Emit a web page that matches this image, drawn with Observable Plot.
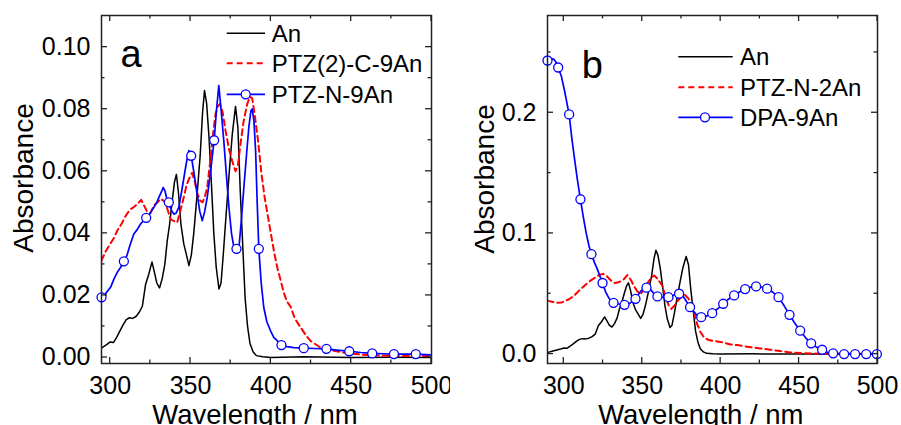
<!DOCTYPE html>
<html>
<head>
<meta charset="utf-8">
<script src="https://cdn.jsdelivr.net/npm/d3@7"></script>
<script src="https://cdn.jsdelivr.net/npm/@observablehq/plot@0.6"></script>
<style>
  body { margin: 0; background: #fff; }
  #wrap { display: flex; width: 901px; height: 425px; overflow: hidden; background: #fff; }
  #wrap svg { display: block; }
</style>
</head>
<body>
<div id="wrap"></div>
<script>
// ---------- data (wavelength nm, absorbance) ----------
const anSpectrum = [
  [290,0.0014],[293,0.0025],[295,0.0032],[298,0.0042],[300,0.0050],[302,0.0048],[304,0.0065],
  [306,0.0085],[308,0.0105],[310,0.0122],[312,0.0128],[314,0.0126],[316,0.0132],[318,0.0145],
  [320,0.0165],[322,0.0235],[324,0.0268],[326,0.0308],[327.5,0.0275],[329,0.0240],[330.7,0.0224],
  [332.4,0.0255],[334,0.0300],[335.5,0.0376],[337,0.0430],[338.5,0.0500],[340,0.0565],[341.2,0.0590],
  [342.5,0.0530],[344,0.0430],[345.8,0.0366],[347.5,0.0330],[349,0.0296],[350.5,0.0330],[352,0.0400],
  [354,0.0520],[356,0.0650],[357.5,0.0790],[358.7,0.0860],[360,0.0820],[361.5,0.0710],[363,0.0560],
  [364.5,0.0400],[366,0.0290],[367.7,0.0221],[369,0.0240],[370.5,0.0340],[372,0.0450],[374,0.0590],
  [376,0.0720],[378,0.0809],[379.5,0.0740],[381,0.0530],[382.5,0.0360],[384,0.0190],[385.5,0.0100],
  [387,0.0045],[389,0.0018],[391,0.0006],[395,0.0002],[400,0.0000],[420,0.0002],[450,0.0000],
  [475,0.0001],[500,0.0000]
];

const ptz2C9An = [
  [294.5,0.0312],[297,0.0340],[300,0.0366],[302.3,0.0385],[304.5,0.0410],[307,0.0430],[309.5,0.0455],
  [312,0.0475],[314.7,0.0485],[317,0.0495],[319.3,0.0508],[321,0.0490],[323,0.0470],[325,0.0465],
  [327.2,0.0490],[329.5,0.0500],[331.3,0.0511],[333.5,0.0505],[335.5,0.0480],[337.6,0.0445],
  [339.6,0.0440],[341.7,0.0435],[343.5,0.0470],[345.8,0.0516],[347.5,0.0555],[349,0.0575],[351,0.0595],
  [352.5,0.0570],[354.2,0.0530],[356,0.0505],[357.5,0.0500],[359,0.0520],[360.4,0.0548],[362,0.0620],
  [363.8,0.0710],[365.6,0.0785],[367,0.0810],[368.3,0.0817],[370,0.0790],[371.8,0.0731],[374,0.0670],
  [375.9,0.0634],[378,0.0600],[379.5,0.0620],[381.1,0.0688],[383,0.0760],[385.3,0.0817],[387,0.0840],
  [388.4,0.0835],[390,0.0780],[392,0.0700],[394,0.0600],[396,0.0520],[398,0.0460],[400,0.0400],
  [402,0.0340],[404,0.0290],[406,0.0250],[408,0.0210],[410,0.0180],[412.2,0.0165],[415,0.0125],
  [418.5,0.0097],[422,0.0070],[425,0.0052],[431,0.0032],[435,0.0026],[439.2,0.0022],[444,0.0017],
  [449.6,0.0013],[455,0.0010],[460,0.0008],[470,0.0006],[480.7,0.0005],[490,0.0005],[500,0.0005]
];

const ptzN9An = [
  [294.6,0.0194],[297,0.0205],[300.2,0.0226],[302.5,0.0255],[304.5,0.0275],[306.4,0.0290],[308.5,0.0310],
  [310.5,0.0330],[312.5,0.0365],[314.7,0.0398],[316.8,0.0412],[318.9,0.0430],[320.5,0.0440],[322.4,0.0450],
  [324.5,0.0462],[327.2,0.0484],[329,0.0500],[330.3,0.0516],[332,0.0535],[333,0.0548],[334.2,0.0535],
  [335.3,0.0510],[336.5,0.0500],[338,0.0475],[339.6,0.0462],[341,0.0465],[342.7,0.0484],[344.3,0.0530],
  [345.9,0.0580],[347.5,0.0630],[349,0.0667],[350.4,0.0650],[352,0.0600],[354.1,0.0527],[355.8,0.0470],
  [357.3,0.0441],[358.8,0.0470],[360.4,0.0516],[362.5,0.0600],[364.7,0.0700],[366.2,0.0800],[367.6,0.0876],
  [369,0.0800],[370.7,0.0699],[372.3,0.0590],[373.9,0.0484],[375.5,0.0400],[377,0.0355],[378.6,0.0350],
  [380.1,0.0352],[381.6,0.0440],[383.2,0.0548],[384.8,0.0650],[386.3,0.0742],[387.6,0.0795],[388.4,0.0801],
  [389.5,0.0760],[390.5,0.0667],[391.5,0.0500],[392.5,0.0350],[394,0.0240],[395.6,0.0161],[397.5,0.0115],
  [399.8,0.0086],[401.8,0.0065],[403.9,0.0054],[406.6,0.0040],[410,0.0035],[414.3,0.0032],[420.5,0.0030],
  [427,0.0029],[434.6,0.0028],[441,0.0024],[448.8,0.0020],[456,0.0016],[463.1,0.0013],[470,0.0012],
  [476.6,0.0011],[483,0.0011],[490.2,0.0011],[500,0.0008]
];
const ptzN9AnMarkers = [294.6,308.5,322.4,336.5,350.4,364.7,378.6,392.5,406.6,420.5,434.6,448.8,463.1,476.6,490.2];

const ptzN2An = [
  [289.6,0.0443],[293,0.0432],[296,0.0425],[298.5,0.0428],[301,0.0440],[304,0.0460],[307,0.0490],
  [310,0.0530],[313,0.0565],[316,0.0600],[319,0.0625],[322.5,0.0655],[325,0.0665],[327.5,0.0645],
  [330,0.0610],[332.5,0.0590],[335,0.0595],[338,0.0615],[340.5,0.0655],[342.5,0.0620],[344.6,0.0568],
  [346.8,0.0520],[348.9,0.0499],[351,0.0530],[353.5,0.0590],[355.5,0.0630],[357.6,0.0651],[360,0.0620],
  [362.7,0.0568],[365,0.0470],[367,0.0400],[368.5,0.0375],[370.5,0.0400],[372.5,0.0440],[375,0.0475],
  [377.3,0.0490],[379.5,0.0460],[381.9,0.0388],[383.5,0.0320],[385,0.0250],[387,0.0185],[389.3,0.0140],
  [392,0.0118],[395,0.0110],[398,0.0105],[402,0.0095],[406.3,0.0080],[410.5,0.0075],[415,0.0065],
  [419,0.0057],[425,0.0047],[431.8,0.0036],[438,0.0025],[444.5,0.0014],[452,0.0008],[460,0.0005],
  [470,0.0003],[480,0.0002],[490,0.0002],[500,0.0002]
];

const dpa9An = [
  [289.6,0.2433],[291.5,0.2450],[293.6,0.2444],[295,0.2420],[296.4,0.2375],[298.5,0.2300],[300.5,0.2180],
  [302,0.2080],[303.4,0.1986],[305,0.1800],[306.6,0.1640],[308.6,0.1450],[310.6,0.1283],[312.5,0.1130],
  [314.3,0.1000],[316,0.0900],[317.6,0.0828],[319.5,0.0760],[321.5,0.0700],[323.2,0.0640],[324.7,0.0589],
  [326.5,0.0520],[328.5,0.0470],[330,0.0440],[331.7,0.0425],[335,0.0415],[338.7,0.0408],[342,0.0420],
  [345.7,0.0458],[349,0.0520],[351,0.0545],[352.7,0.0550],[354.5,0.0545],[356.3,0.0520],[358,0.0490],
  [359.7,0.0478],[363,0.0470],[366.7,0.0472],[369,0.0480],[371,0.0495],[373.5,0.0500],[375.5,0.0490],
  [377.5,0.0450],[380.5,0.0389],[383,0.0350],[385,0.0320],[387.6,0.0306],[391,0.0315],[394.6,0.0339],
  [398,0.0375],[401.6,0.0417],[405,0.0455],[408.6,0.0486],[412,0.0515],[415.6,0.0539],[419,0.0555],
  [422.6,0.0561],[426,0.0556],[429.6,0.0542],[433,0.0515],[436.9,0.0472],[440.5,0.0400],[443.9,0.0325],
  [447.3,0.0255],[450.7,0.0194],[454.2,0.0135],[457.7,0.0089],[461,0.0058],[464.7,0.0036],[468,0.0015],
  [471.7,0.0006],[478.7,0.0000],[485.7,0.0000],[492.8,0.0000],[499.6,0.0000],[500,0.0000]
];
const dpa9AnMarkers = [289.6,296.4,303.4,310.6,317.6,324.7,331.7,338.7,345.7,352.7,359.7,366.7,373.5,380.5,
  387.6,394.6,401.6,408.6,415.6,422.6,429.6,436.9,443.9,450.7,457.7,464.7,471.7,478.7,485.7,492.8,499.6];

// ---------- ticks and labels ----------
const xMajor = [300,350,400,450,500];
const xMinor = [325,375,425,475];
const yMajorA = [0,0.02,0.04,0.06,0.08,0.10];
const yMinorA = [0.01,0.03,0.05,0.07,0.09];
const yMajorB = [0,0.1,0.2];
const yMinorB = [0.05,0.15,0.25];
const legendA = ["An","PTZ(2)-C-9An","PTZ-N-9An"];
const legendB = ["An","PTZ-N-2An","DPA-9An"];
const xTitle = "Wavelength / nm";
const yTitle = "Absorbance";

const FONT = "'Liberation Sans', Arial, Helvetica, sans-serif";
const BLACK = "#000000", RED = "#ff0000", BLUE = "#0000ff";
const styles = [
  {stroke: BLACK, strokeWidth: 1.5, dash: null, marker: false},
  {stroke: RED, strokeWidth: 2, dash: "6,4", marker: false},
  {stroke: BLUE, strokeWidth: 1.7, dash: null, marker: true}
];

function panel(cfg) {
  const seriesMarks = cfg.series.map((s, i) => Plot.line(s, {
    x: d => d[0], y: d => d[1], stroke: styles[i].stroke, strokeWidth: styles[i].strokeWidth,
    strokeDasharray: styles[i].dash, clip: true, curve: "linear"
  }));
  const markerData = cfg.series[2].filter(d => cfg.markers.includes(d[0]));
  const chart = Plot.plot({
    width: cfg.width, height: 425,
    marginLeft: cfg.ml, marginRight: cfg.mr, marginTop: 15, marginBottom: 62,
    style: {fontFamily: FONT, fontSize: "25px", background: "white", color: "#000", overflow: "visible"},
    x: {domain: cfg.xDomain},
    y: {domain: cfg.yDomain},
    marks: [
      Plot.axisX(xMajor, {tickSize: 0, tickPadding: 13, label: null, tickFormat: d3.format("d")}),
      Plot.axisY(cfg.yMajor, {tickSize: 0, tickPadding: 11, label: null, tickFormat: cfg.fmt}),
      ...seriesMarks,
      Plot.dot(markerData, {x: d => d[0], y: d => d[1], r: 4.5, fill: "white", stroke: BLUE, strokeWidth: 1.3}),
      Plot.frame({stroke: "#222", strokeWidth: 1.5})
    ]
  });
  const svg = d3.select(chart);
  const sx = chart.scale("x"), sy = chart.scale("y");
  const [xl, xr] = sx.range, [yb, yt] = sy.range;
  const g = svg.append("g").attr("stroke", "#222").attr("stroke-width", 1.3);
  const addX = (vals, len) => vals.forEach(v => {
    const x = sx.apply(v);
    g.append("line").attr("x1", x).attr("x2", x).attr("y1", yb).attr("y2", yb - len);
    g.append("line").attr("x1", x).attr("x2", x).attr("y1", yt).attr("y2", yt + len);
  });
  const addY = (vals, len) => vals.forEach(v => {
    const y = sy.apply(v);
    g.append("line").attr("y1", y).attr("y2", y).attr("x1", xl).attr("x2", xl + len);
    g.append("line").attr("y1", y).attr("y2", y).attr("x1", xr).attr("x2", xr - len);
  });
  addX(xMajor, 6); addX(xMinor, 3.5);
  addY(cfg.yMajor, 6); addY(cfg.yMinor, 3.5);

  const txt = (sel) => sel.attr("font-family", FONT).attr("fill", "#000");
  // axis titles
  svg.append("text").text(xTitle).attr("x", cfg.xTitleX).attr("y", 423.5)
    .attr("text-anchor", "middle").attr("font-size", 27.5).call(txt);
  svg.append("text").text(yTitle)
    .attr("transform", `translate(${cfg.yTitleX},${cfg.yTitleY}) rotate(-90)`)
    .attr("text-anchor", "middle").attr("font-size", 28).call(txt);
  // panel letter
  svg.append("text").text(cfg.letter).attr("x", cfg.letterX).attr("y", cfg.letterY)
    .attr("text-anchor", "start").attr("font-size", 38).call(txt);
  // legend
  const lg = svg.append("g");
  cfg.legend.forEach((label, i) => {
    const y = cfg.legY[i], st = styles[i];
    lg.append("line").attr("x1", cfg.legX0).attr("x2", cfg.legX1).attr("y1", y).attr("y2", y)
      .attr("stroke", st.stroke).attr("stroke-width", st.strokeWidth)
      .attr("stroke-dasharray", st.dash);
    if (st.marker) lg.append("circle").attr("cx", cfg.legM).attr("cy", y).attr("r", 4.5)
      .attr("fill", "white").attr("stroke", BLUE).attr("stroke-width", 1.3);
    lg.append("text").text(label).attr("x", cfg.legT).attr("y", y + 8.5)
      .attr("text-anchor", "start").attr("font-size", 24).call(txt);
  });
  return chart;
}

const wrap = document.getElementById("wrap");
wrap.appendChild(panel({
  width: 450, ml: 101, mr: 19,
  xDomain: [294.58, 500], yDomain: [-0.00194, 0.1102],
  yMajor: yMajorA, yMinor: yMinorA, fmt: d3.format(".2f"),
  series: [anSpectrum, ptz2C9An, ptzN9An], markers: ptzN9AnMarkers,
  legend: legendA, legY: [33.3, 63.3, 94.3], legX0: 226.7, legX1: 265, legM: 245.7, legT: 271.7,
  letter: "a", letterX: 120.5, letterY: 66.7,
  xTitleX: 255, yTitleX: 33, yTitleY: 178
}));
wrap.appendChild(panel({
  width: 451, ml: 97, mr: 24,
  xDomain: [289.6, 500], yDomain: [-0.0078, 0.2806],
  yMajor: yMajorB, yMinor: yMinorB, fmt: d3.format(".1f"),
  series: [anSpectrum, ptzN2An, dpa9An], markers: dpa9AnMarkers,
  legend: legendB, legY: [56.7, 87.3, 117.3], legX0: 228.3, legX1: 282.7, legM: 255, legT: 290,
  letter: "b", letterX: 131.7, letterY: 78,
  xTitleX: 250.8, yTitleX: 44, yTitleY: 179
}));
</script>
</body>
</html>
